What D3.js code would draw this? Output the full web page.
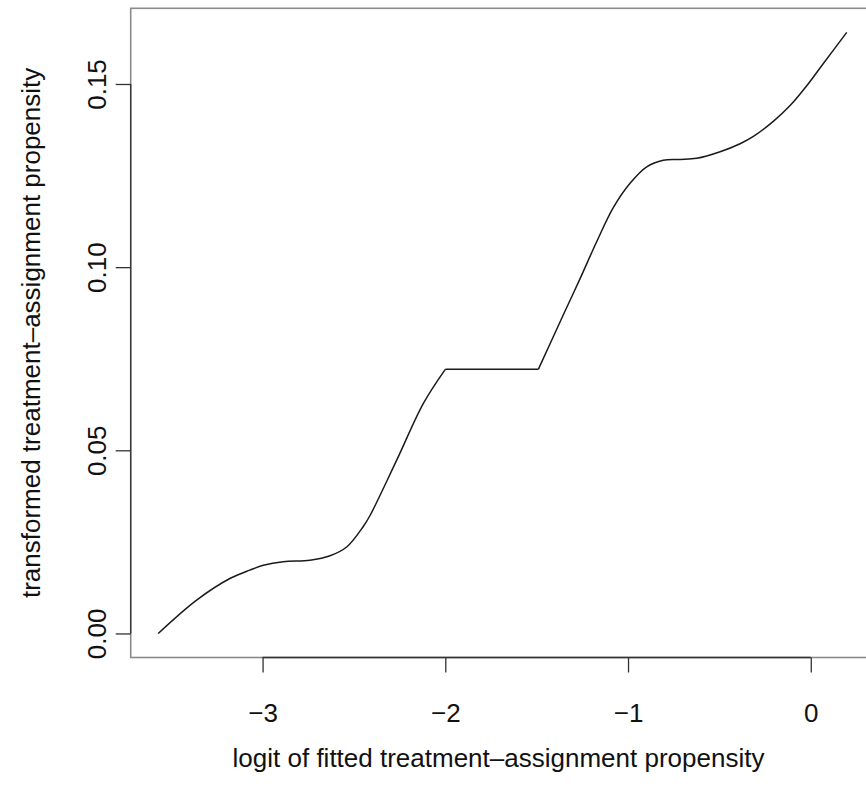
<!DOCTYPE html>
<html>
<head>
<meta charset="utf-8">
<script src="https://cdn.jsdelivr.net/npm/d3@7"></script>
<style>
  html, body { margin: 0; padding: 0; background: #fff; }
  svg { display: block; }
  text { font-family: "Liberation Sans", Arial, Helvetica, sans-serif; fill: #111; }
</style>
</head>
<body>
<svg id="chart" width="866" height="788"></svg>
<script>
// Segment 1: rising curve up to the first plateau corner
const seg1X = [-3.571, -3.361, -3.179, -3.070, -2.996, -2.887, -2.741, -2.631, -2.540, -2.449, -2.412, -2.266, -2.120, -2.000];
const seg1Y = [0.0000, 0.0091, 0.0150, 0.0173, 0.0186, 0.0196, 0.0200, 0.0212, 0.0236, 0.0292, 0.0322, 0.0473, 0.0628, 0.0721];
// Segment 2: flat part
const seg2X = [-2.000, -1.491];
const seg2Y = [0.0721, 0.0721];
// Segment 3: rising curve to the end
const seg3X = [-1.491, -1.354, -1.263, -1.171, -1.080, -0.989, -0.898, -0.807, -0.715, -0.624, -0.496, -0.387, -0.314, -0.205, -0.113, -0.022, 0.069, 0.197];
const seg3Y = [0.0721, 0.0870, 0.0968, 0.1070, 0.1163, 0.1229, 0.1274, 0.1292, 0.1294, 0.1297, 0.1315, 0.1337, 0.1357, 0.1398, 0.1441, 0.1495, 0.1556, 0.1641];

const xTicks = [-3, -2, -1, 0];
const xTickLabels = ["\u22123", "\u22122", "\u22121", "0"];
const yTicks = [0, 0.05, 0.10, 0.15];
const yTickLabels = ["0.00", "0.05", "0.10", "0.15"];
const xTitle = "logit of fitted treatment\u2013assignment propensity";
const yTitle = "transformed treatment\u2013assignment propensity";

const svg = d3.select("#chart");

const allX = seg1X.concat(seg2X, seg3X);
const allY = seg1Y.concat(seg2Y, seg3Y);
const [xmin, xmax] = d3.extent(allX);
const [ymin, ymax] = d3.extent(allY);
const xpad = (xmax - xmin) * 0.04, ypad = (ymax - ymin) * 0.04;

const pLeft = 130.7, pRight = 874.3, pTop = 8.3, pBottom = 657.5;
const x = d3.scaleLinear().domain([xmin - xpad, xmax + xpad]).range([pLeft, pRight]);
const y = d3.scaleLinear().domain([ymin - ypad, ymax + ypad]).range([pBottom, pTop]);

// box (lighter, R draws box and axis separately)
svg.append("rect")
  .attr("x", pLeft).attr("y", pTop)
  .attr("width", pRight - pLeft).attr("height", pBottom - pTop)
  .attr("fill", "none").attr("stroke", "#8a8a8a").attr("stroke-width", 1.6);

// line
const segs = [
  {xs: seg1X, ys: seg1Y, curve: d3.curveCatmullRom.alpha(0.5)},
  {xs: seg2X, ys: seg2Y, curve: d3.curveLinear},
  {xs: seg3X, ys: seg3Y, curve: d3.curveCatmullRom.alpha(0.5)}
];
segs.forEach(s => {
  const line = d3.line().x(d => x(d[0])).y(d => y(d[1])).curve(s.curve);
  svg.append("path")
    .datum(s.xs.map((v, i) => [v, s.ys[i]]))
    .attr("d", line)
    .attr("fill", "none")
    .attr("stroke", "#1a1a1a")
    .attr("stroke-width", 1.5)
    .attr("stroke-linejoin", "round");
});

// x axis
const xAxis = d3.axisBottom(x).tickValues(xTicks).tickSize(15)
  .tickFormat((d, i) => xTickLabels[i]);
const gx = svg.append("g").attr("transform", `translate(0,${pBottom})`).call(xAxis);
gx.select(".domain").remove();
gx.append("line")
  .attr("x1", x(xTicks[0])).attr("x2", x(xTicks[xTicks.length - 1]))
  .attr("y1", 0).attr("y2", 0)
  .attr("stroke", "#222").attr("stroke-width", 1.3);
gx.selectAll("line").attr("stroke", "#333").attr("stroke-width", 1.3);
gx.selectAll("text").attr("font-size", 26).attr("fill", "#111")
  .attr("font-family", "Liberation Sans, Arial, sans-serif")
  .attr("dy", null).attr("y", 64);

// y axis
const yAxis = d3.axisLeft(y).tickValues(yTicks).tickSize(15)
  .tickFormat((d, i) => yTickLabels[i]);
const gy = svg.append("g").attr("transform", `translate(${pLeft},0)`).call(yAxis);
gy.select(".domain").remove();
gy.append("line")
  .attr("x1", 0).attr("x2", 0)
  .attr("y1", y(yTicks[0])).attr("y2", y(yTicks[yTicks.length - 1]))
  .attr("stroke", "#222").attr("stroke-width", 1.3);
gy.selectAll("line").attr("stroke", "#333").attr("stroke-width", 1.3);
gy.selectAll(".tick text")
  .attr("font-size", 26).attr("fill", "#111")
  .attr("font-family", "Liberation Sans, Arial, sans-serif")
  .attr("x", null).attr("dy", null)
  .attr("text-anchor", "middle")
  .attr("transform", "translate(-25,0) rotate(-90)")
  .attr("y", 0);

// titles
svg.append("text")
  .attr("x", (pLeft + pRight) / 2 - 4).attr("y", 767)
  .attr("text-anchor", "middle").attr("font-size", 26)
  .text(xTitle);
svg.append("text")
  .attr("transform", `translate(40,${(pTop + pBottom) / 2}) rotate(-90)`)
  .attr("text-anchor", "middle").attr("font-size", 26)
  .text(yTitle);
</script>
</body>
</html>
